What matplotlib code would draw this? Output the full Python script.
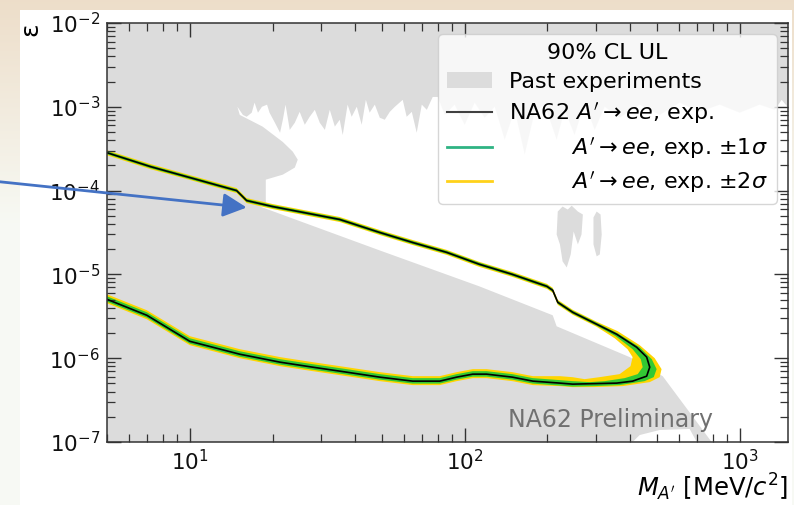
import numpy as np
import matplotlib.pyplot as plt
from matplotlib.lines import Line2D
from matplotlib.patches import Patch, Rectangle

# ---- data (mass in MeV/c^2, coupling epsilon) ----
x_range = [5.0, 1500.0]
y_range = [1e-7, 1e-2]

# allowed (white) window left by past experiments: spiky upper edge, left -> right
allowed_top_m = [14.9, 15.6, 16.1, 16.8, 17.2, 17.7, 18.3, 19.1, 19.5, 20.4,
                 21.3, 21.8, 22.3, 23.1, 24.1, 25.1, 26.2, 27.3, 28.5, 29.7,
                 31.0, 32.3, 33.7, 35.1, 36.0, 37.5, 38.8, 40.5, 42.2, 43.7,
                 45.1, 47.1, 49.1, 51.2, 53.4, 55.7, 59.5, 61.5, 64.2, 66.9,
                 69.8, 72.8, 76.5, 79.8, 84.6, 91.9, 100, 108.7, 118.2, 128.6,
                 139.8, 152, 165.3, 179.7, 195.4, 216, 231, 251, 273, 297,
                 323, 366, 433, 512, 605, 715, 846, 1000, 1182, 1341, 1422, 1500]
allowed_top_eps = [1.0e-3, 8.0e-4, 7.6e-4, 8.5e-4, 1.12e-3, 8.5e-4, 1.0e-3, 1.06e-3, 8.5e-4, 6.45e-4,
                   4.9e-4, 7.0e-4, 1.06e-3, 5.3e-4, 6.45e-4, 8.7e-4, 6.1e-4, 7.6e-4, 9.2e-4, 6.45e-4,
                   5.3e-4, 9.2e-4, 5.8e-4, 7.0e-4, 4.6e-4, 1.06e-3, 7.6e-4, 1.0e-3, 6.1e-4, 1.21e-3,
                   8.5e-4, 1.06e-3, 7.4e-4, 7.0e-4, 8.7e-4, 1.0e-3, 1.21e-3, 7.6e-4, 8.7e-4, 4.9e-4,
                   1.06e-3, 9.2e-4, 1.31e-3, 1.31e-3, 8.0e-4, 1.06e-3, 6.1e-4, 1.12e-3, 7.4e-4, 1.0e-3,
                   4.05e-4, 9.2e-4, 2.7e-4, 8.7e-4, 1.06e-3, 4.05e-4, 9.2e-4, 4.6e-4, 1.12e-3, 5.3e-4,
                   1.0e-3, 7.4e-4, 1.06e-3, 8.0e-4, 1.12e-3, 8.7e-4, 1.06e-3, 8.5e-4, 1.06e-3, 9.2e-4,
                   1.21e-3, 9.8e-4]
# lower edge and left bulge, right -> left
allowed_low_m = [1500, 791, 525, 398, 216, 209, 113, 49.1, 18.0, 18.9,
                 18.9, 21.8, 24.1, 24.7, 23.7, 21.8, 18.4, 15.2]
allowed_low_eps = [1e-7, 1e-7, 6.1e-7, 1.03e-6, 2.40e-6, 3.25e-6, 7.2e-6, 1.93e-5, 6.45e-5, 6.8e-5,
                   1.35e-4, 1.55e-4, 1.88e-4, 2.34e-4, 2.91e-4, 3.8e-4, 5.8e-4, 8.0e-4]
notch_m = [408, 433, 512, 658, 698]
notch_eps = [1e-7, 1.21e-7, 1.39e-7, 1.43e-7, 1e-7]

# small excluded islands inside the window
island1_m = [218, 227, 237, 245, 258, 269, 266, 258, 249, 243, 235, 227, 222, 216]
island1_eps = [5.62e-5, 6.45e-5, 5.94e-5, 6.6e-5, 5.62e-5, 5.18e-5, 2.99e-5, 2.28e-5,
               3.25e-5, 1.73e-5, 1.21e-5, 1.43e-5, 2.28e-5, 2.99e-5]
island2_m = [294, 302, 312, 315, 310, 302, 294]
island2_eps = [4.77e-5, 5.62e-5, 5.18e-5, 2.99e-5, 1.73e-5, 1.64e-5, 2.28e-5]

# NA62 expected limit: upper branch (shared masses), tip, lower branch (shared masses)
m_upper = [5.0, 7.2, 10.0, 14.8, 16.1, 20.0, 35.1, 49.1, 64.7, 86.0, 113, 149, 199, 209, 218, 247, 302]
m_lower = [247, 222, 177, 149, 120, 107, 93.5, 81.1, 64.7, 49.1, 37.2, 28.0, 21.3, 15.2, 10.0, 6.98, 5.0]

up_exp = [2.83e-4, 1.93e-4, 1.43e-4, 1.0e-4, 7.6e-5, 6.45e-5, 4.52e-5, 3.16e-5, 2.40e-5,
          1.83e-5, 1.32e-5, 1.0e-5, 7.2e-6, 6.45e-6, 4.64e-6, 3.53e-6, 2.54e-6]
up_out2 = [3.03e-4, 2.07e-4, 1.53e-4, 1.07e-4, 8.14e-5, 6.91e-5, 4.84e-5, 3.38e-5, 2.57e-5,
           1.96e-5, 1.41e-5, 1.07e-5, 7.71e-6, 6.91e-6, 4.97e-6, 3.78e-6, 2.72e-6]
up_out1 = [2.95e-4, 2.01e-4, 1.49e-4, 1.04e-4, 7.92e-5, 6.72e-5, 4.71e-5, 3.29e-5, 2.50e-5,
           1.91e-5, 1.38e-5, 1.04e-5, 7.50e-6, 6.72e-6, 4.83e-6, 3.68e-6, 2.65e-6]
up_in1 = [2.72e-4, 1.85e-4, 1.37e-4, 9.60e-5, 7.30e-5, 6.19e-5, 4.34e-5, 3.03e-5, 2.30e-5,
          1.76e-5, 1.27e-5, 9.60e-6, 6.91e-6, 6.19e-6, 4.45e-6, 3.39e-6, 2.44e-6]
up_in2 = [2.64e-4, 1.80e-4, 1.34e-4, 9.34e-5, 7.10e-5, 6.02e-5, 4.22e-5, 2.95e-5, 2.24e-5,
          1.71e-5, 1.23e-5, 9.34e-6, 6.72e-6, 6.02e-6, 4.33e-6, 3.30e-6, 2.37e-6]

tip_exp_m = [357, 422, 459, 471, 459, 408, 357]
tip_exp_eps = [1.93e-6, 1.35e-6, 1.03e-6, 7.81e-7, 6.10e-7, 5.32e-7, 5.04e-7]
tip_out2_m = [360, 433, 491, 520, 512, 471, 375, 297]
tip_out2_eps = [2.10e-6, 1.43e-6, 1.0e-6, 7.40e-7, 5.94e-7, 5.18e-7, 4.64e-7, 4.52e-7]
tip_out1_m = [360, 433, 479, 499, 487, 451, 366, 297]
tip_out1_eps = [1.98e-6, 1.35e-6, 9.73e-7, 7.40e-7, 5.94e-7, 5.32e-7, 4.77e-7, 4.64e-7]
tip_in1_m = [354, 408, 437, 444, 426, 382, 323, 285]
tip_in1_eps = [1.83e-6, 1.28e-6, 9.73e-7, 7.81e-7, 6.45e-7, 5.78e-7, 5.32e-7, 5.18e-7]
tip_in2_m = [351, 391, 408, 401, 366, 310, 273]
tip_in2_eps = [1.73e-6, 1.28e-6, 1.03e-6, 8.03e-7, 6.45e-7, 5.94e-7, 5.62e-7]

low_exp = [4.90e-7, 5.04e-7, 5.32e-7, 5.94e-7, 6.45e-7, 6.45e-7, 5.94e-7, 5.32e-7, 5.32e-7,
           5.94e-7, 6.81e-7, 7.81e-7, 8.96e-7, 1.115e-6, 1.59e-6, 3.25e-6, 5.04e-6]
low_out2 = [4.51e-7, 4.64e-7, 4.77e-7, 5.32e-7, 5.78e-7, 5.78e-7, 5.32e-7, 4.77e-7, 4.77e-7,
            5.32e-7, 6.10e-7, 7.00e-7, 8.03e-7, 9.99e-7, 1.43e-6, 2.91e-6, 4.52e-6]
low_out1 = [4.58e-7, 4.71e-7, 4.97e-7, 5.55e-7, 6.02e-7, 6.02e-7, 5.55e-7, 4.97e-7, 4.97e-7,
            5.55e-7, 6.36e-7, 7.29e-7, 8.37e-7, 1.04e-6, 1.49e-6, 3.04e-6, 4.71e-6]
low_in1 = [5.32e-7, 5.47e-7, 5.78e-7, 6.45e-7, 7.00e-7, 7.00e-7, 6.45e-7, 5.78e-7, 5.78e-7,
           6.45e-7, 7.40e-7, 8.48e-7, 9.73e-7, 1.21e-6, 1.73e-6, 3.53e-6, 5.47e-6]
low_in2 = [5.93e-7, 6.10e-7, 6.10e-7, 6.81e-7, 7.40e-7, 7.40e-7, 6.81e-7, 6.10e-7, 6.10e-7,
           6.81e-7, 7.81e-7, 8.96e-7, 1.03e-6, 1.28e-6, 1.83e-6, 3.73e-6, 5.78e-6]

legend_title = "90% CL UL"
labels = ["Past experiments",
          r"NA62 $A'\to ee$, exp.",
          r"         $A'\to ee$, exp. $\pm1\sigma$",
          r"         $A'\to ee$, exp. $\pm2\sigma$"]

GREY = "#dcdcdc"
YELLOW = "#ffd500"
GREEN = "#33c933"


def contour(tip_m, tip_eps, up, low):
    """Open contour: upper branch -> tip -> lower branch."""
    m = np.concatenate([m_upper, tip_m, m_lower])
    e = np.concatenate([up, tip_eps, low])
    return m, e


def band(ax, outer, inner, color, z):
    m = np.concatenate([outer[0], inner[0][::-1]])
    e = np.concatenate([outer[1], inner[1][::-1]])
    ax.fill(m, e, color=color, lw=0, zorder=z)


fig = plt.figure(figsize=(7.94, 5.05), dpi=100)

# slide background behind the white panel
bg = fig.add_axes([0, 0, 1, 1], zorder=-10)
t = np.linspace(0, 1, 200)[:, None, None]
fade = np.clip(t / 0.45, 0, 1)
top_col = np.array([0.93, 0.87, 0.79])
bot_col = np.array([0.97, 0.98, 0.96])
bg.imshow(top_col * (1 - fade) + bot_col * fade, aspect="auto", extent=[0, 1, 0, 1])
bg.axis("off")
fig.add_artist(Rectangle((20 / 794, 0), 772 / 794, 495 / 505, transform=fig.transFigure,
                         facecolor="white", edgecolor="none", zorder=-5))

ax = fig.add_axes([0.1348, 0.1248, 0.8577, 0.8297])
ax.set_xscale("log")
ax.set_yscale("log")

# past experiments: everything excluded except the white window
ax.fill_between(x_range, y_range[0], y_range[1], color=GREY, lw=0, zorder=0.1)
ax.fill(np.concatenate([allowed_top_m, allowed_low_m]),
        np.concatenate([allowed_top_eps, allowed_low_eps]), color="white", lw=0, zorder=0.2)
ax.fill(notch_m, notch_eps, color="white", lw=0, zorder=0.2)
ax.fill(island1_m, island1_eps, color=GREY, lw=0, zorder=0.3)
ax.fill(island2_m, island2_eps, color=GREY, lw=0, zorder=0.3)

# NA62 expected bands and central line
c_exp = contour(tip_exp_m, tip_exp_eps, up_exp, low_exp)
c_out2 = contour(tip_out2_m, tip_out2_eps, up_out2, low_out2)
c_out1 = contour(tip_out1_m, tip_out1_eps, up_out1, low_out1)
c_in1 = contour(tip_in1_m, tip_in1_eps, up_in1, low_in1)
c_in2 = contour(tip_in2_m, tip_in2_eps, up_in2, low_in2)
band(ax, c_out2, c_in2, YELLOW, 1.0)
band(ax, c_out1, c_in1, GREEN, 1.1)
ax.plot(c_exp[0], c_exp[1], color="black", lw=1.2, zorder=2)

ax.set_xlim(*x_range)
ax.set_ylim(*y_range)

ax.tick_params(which="both", direction="in", top=True, right=True, colors="#333333",
               labelcolor="#111111", labelsize=15.5, pad=5)
ax.tick_params(which="major", length=10, width=1)
ax.tick_params(which="minor", length=5.5, width=0.9)
for sp in ax.spines.values():
    sp.set_color("#333333")
    sp.set_linewidth(1.1)

ax.set_xlabel(r"$M_{A'}$ [MeV/$c^2$]", loc="right", fontsize=17.5, labelpad=-1.5)
ax.set_ylabel("ε", loc="top", fontsize=18, labelpad=5)

ax.text(0.739, 0.0525, "NA62 Preliminary", transform=ax.transAxes, ha="center", va="center",
        fontsize=17, color="#707070", zorder=3)

handles = [Patch(facecolor=GREY, edgecolor="none"),
           Line2D([], [], color="#404040", lw=1.5),
           Line2D([], [], color="#2fb383", lw=2),
           Line2D([], [], color="#ffd21a", lw=2)]
leg = ax.legend(handles, labels, title=legend_title, loc="upper right", fontsize=16,
                title_fontsize=16, framealpha=0.8, borderaxespad=0.5,
                labelspacing=0.4, borderpad=0.4, handletextpad=0.8)
leg.set_zorder(4)

# pointer arrow from the slide
ax.annotate("", xy=(16.1, 6.28e-5), xycoords="data", xytext=(0.0, 0.640),
            textcoords="figure fraction", annotation_clip=False, zorder=6,
            arrowprops=dict(arrowstyle="-|>,head_length=0.8,head_width=0.4", color="#4472c4",
                            lw=2, mutation_scale=18, shrinkA=0, shrinkB=0, clip_on=False))

fig.savefig("out.png", dpi=100)
